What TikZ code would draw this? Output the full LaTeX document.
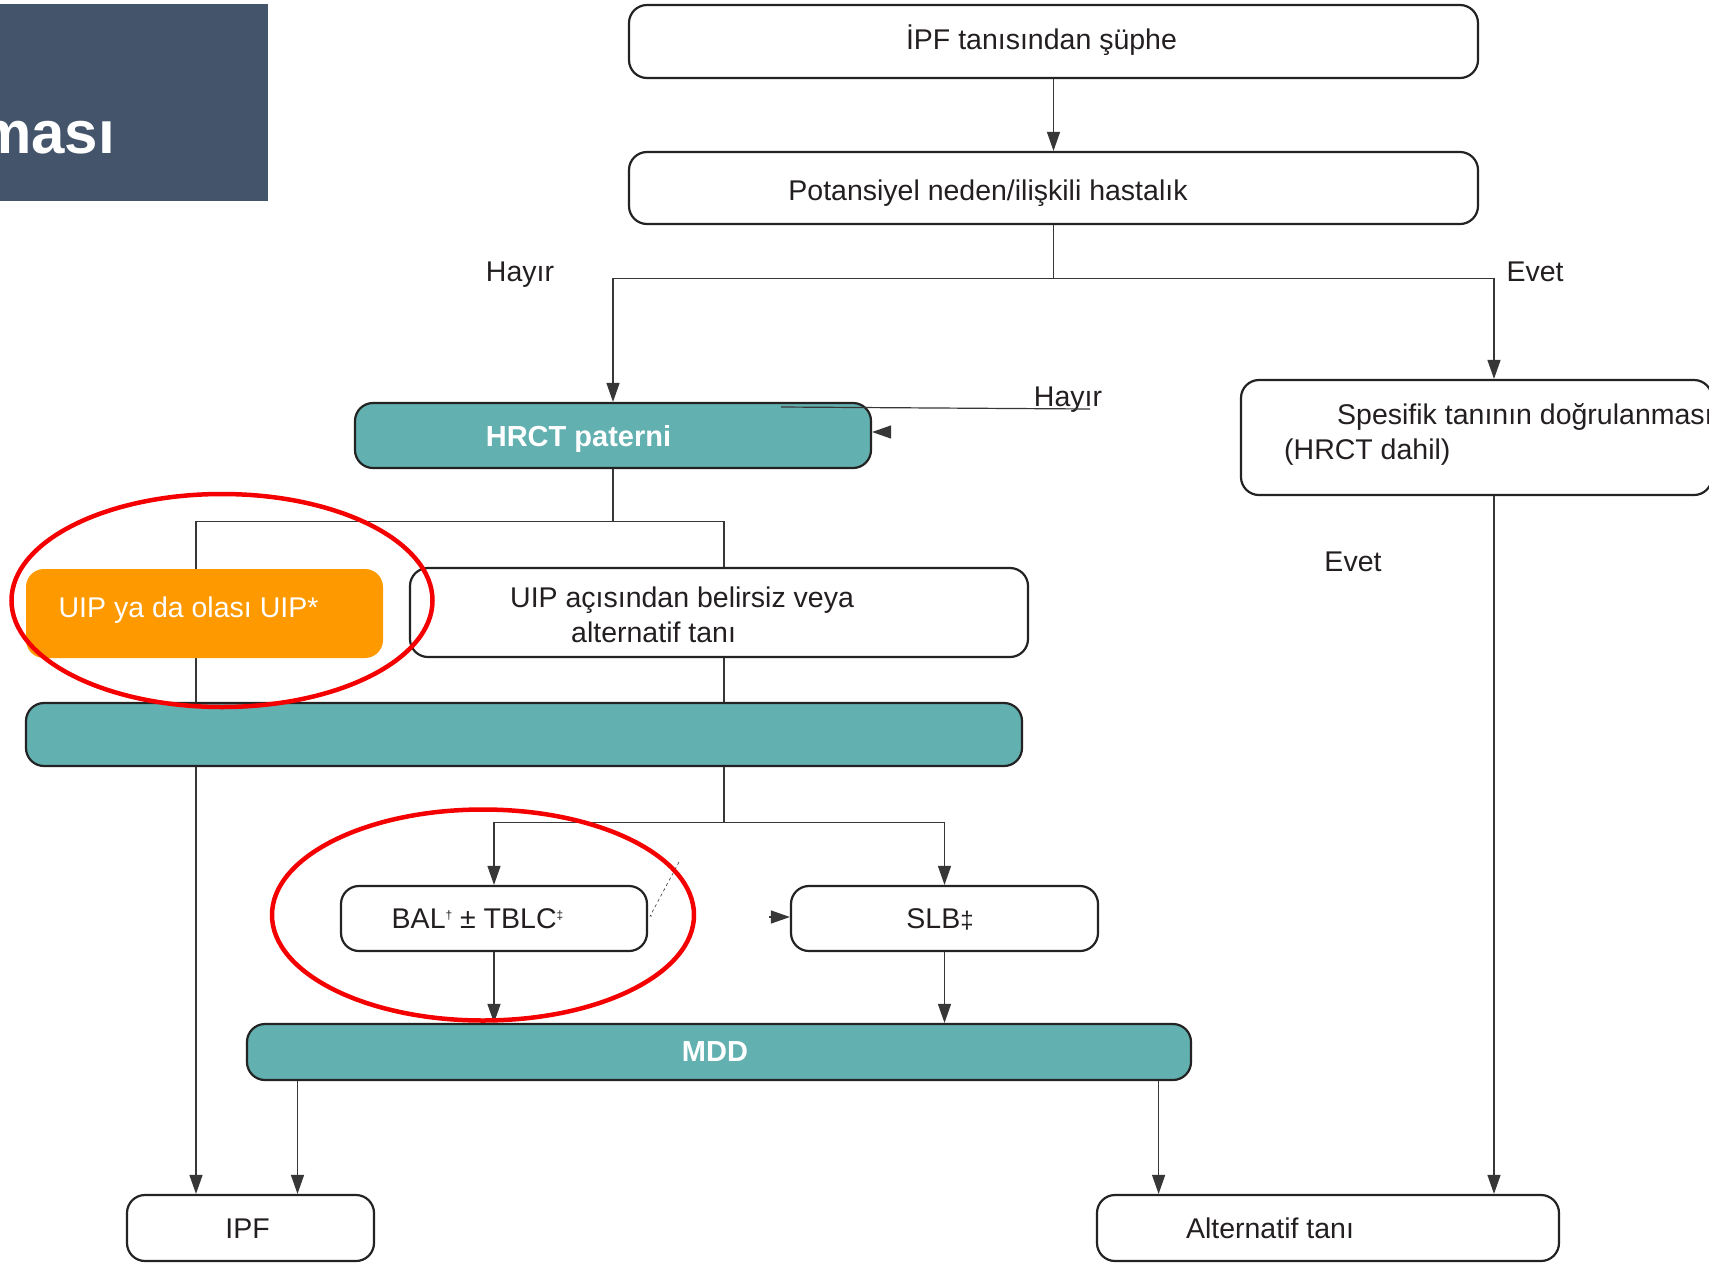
\documentclass[tikz,border=0pt]{standalone}
\usepackage{fontspec}
\setmainfont{Liberation Sans}
\usepackage{xcolor}
\usepackage{tikz}
\usetikzlibrary{arrows.meta,backgrounds}

\begin{document}
\begin{tikzpicture}[x=1pt,y=-1pt,
  box/.style={draw=myline, line width=2.2pt, rounded corners=18pt, inner sep=0pt},
  tealbox/.style={box, fill=myteal},
  txt/.style={inner sep=0pt, text=mytext, font=\fontsize{28.5}{35}\selectfont},
  wtxt/.style={inner sep=0pt, text=white, font=\bfseries\fontsize{29}{35}\selectfont},
  lin/.style={draw=myarrow, line width=1.2pt},
  arr/.style={lin, -{Triangle[length=19pt,width=13pt]}},
  ring/.style={draw=myred, line width=4.5pt}]
				% 颜色列表
				\definecolor{mydark}{RGB}{68,84,106}
				\definecolor{myteal}{RGB}{99,176,177}
				\definecolor{myorange}{RGB}{255,153,0}
				\definecolor{myred}{RGB}{245,0,0}
				\definecolor{myline}{RGB}{35,35,35}
				\definecolor{myarrow}{RGB}{55,55,55}
				\definecolor{mytext}{RGB}{35,31,32}
				\useasboundingbox (0,0) rectangle (1709,1262);
				
				% 左上角标题块
				\node[fill=mydark, minimum width=268pt, minimum height=197pt, inner sep=0pt] (title) at (134,102.5) {};
				\begin{scope}
				\clip (0,4) rectangle (268,201);
				\node[inner sep=0pt, anchor=base west, text=white, font=\bfseries\fontsize{60}{60}\selectfont] (titletxt) at (-22,153) {ması};
				\end{scope}
				
				% 上部两个框
				\node[box, minimum width=849pt, minimum height=73pt] (suphe) at (1053.5,41.5) {};
				\node[txt, anchor=base] (suphetxt) at (1041.5,49.5) {İPF tanısından şüphe};
				\node[box, minimum width=849pt, minimum height=72pt] (neden) at (1053.5,188) {};
				\node[txt, anchor=base] (nedentxt) at (988,200) {Potansiyel neden/ilişkili hastalık};
				
				% HRCT 与右侧框
				\node[tealbox, minimum width=516pt, minimum height=65pt] (hrct) at (613,435.5) {};
				\node[wtxt, anchor=base] (hrcttxt) at (578.5,446) {HRCT paterni};
				\node[box, minimum width=471pt, minimum height=115pt] (spesifik) at (1476.5,437.5) {};
				\node[txt, anchor=base west, align=left] (spesifiktxt) at (1284,459) {\hspace*{53pt}Spesifik tanının doğrulanması\\(HRCT dahil)};
				
				% 中间一行
				\node[fill=myorange, rounded corners=18pt, minimum width=357pt, minimum height=89pt, inner sep=0pt] (uip) at (204.5,613.5) {};
				\node[txt, text=white, anchor=base] (uiptxt) at (188.5,617) {UIP ya da olası UIP*};
				\node[box, minimum width=618pt, minimum height=89pt] (belirsiz) at (719,612.5) {};
				\node[txt, anchor=base west, align=left] (belirsiztxt) at (510,642) {UIP açısından belirsiz veya\\\hspace*{61pt}alternatif tanı};
				\node[tealbox, minimum width=996pt, minimum height=63pt] (bar) at (524,734.5) {};
				
				% BAL, SLB, MDD
				\node[box, minimum width=306pt, minimum height=65pt] (bal) at (494,918.5) {};
				\node[txt, anchor=base] (baltxt) at (477.5,928) {BAL\raisebox{9pt}{\fontsize{12}{12}\selectfont †} ± TBLC\raisebox{9pt}{\fontsize{12}{12}\selectfont ‡}};
				\node[box, minimum width=307pt, minimum height=65pt] (slb) at (944.5,918.5) {};
				\node[txt, anchor=base] (slbtxt) at (940,928) {SLB{\fontsize{24}{24}\selectfont ‡}};
				\node[tealbox, minimum width=944pt, minimum height=56pt] (mdd) at (719,1052) {};
				\node[wtxt, anchor=base] (mddtxt) at (715,1061) {MDD};
				
				% 底部结果
				\node[box, minimum width=247pt, minimum height=66pt] (ipf) at (250.5,1228) {};
				\node[txt, anchor=base] (ipftxt) at (247.5,1238) {IPF};
				\node[box, minimum width=462pt, minimum height=66pt] (alt) at (1328,1228) {};
				\node[txt, anchor=base] (alttxt) at (1270,1238) {Alternatif tanı};
				
				% 标签
				\node[txt, anchor=base] (hayir1) at (520,281) {Hayır};
				\node[txt, anchor=base] (evet1) at (1535,281) {Evet};
				\node[txt, anchor=base] (hayir2) at (1068,406) {Hayır};
				\node[txt, anchor=base] (evet2) at (1353,571) {Evet};
				
				% 连线
				\draw[arr] (suphe.south) -- (neden.north);
				\draw[arr] (neden.south) -- ++(0,53) -| (hrct.north);
				\draw[arr] (neden.south) -- ++(0,53) -| ([xshift=17.5pt]spesifik.north);
				\draw[lin] (hrct.south) -- ++(0,52.5) -| ([xshift=5pt]belirsiz.north);
				\draw[lin] ([xshift=5pt]belirsiz.south) -- ([xshift=200pt]bar.north);
				\draw[arr] ([xshift=200pt]bar.south) -- ++(0,55) -| (bal.north);
				\draw[arr] ([xshift=200pt]bar.south) -- ++(0,55) -| (slb.north);
				\draw[arr] (bal.south) -- ([xshift=-225pt]mdd.north);
				\draw[arr] (slb.south) -- ([xshift=225.5pt]mdd.north);
				\draw[arr] ([xshift=-421.5pt]mdd.south) -- ([xshift=47pt]ipf.north);
				\draw[arr] ([xshift=439.6pt]mdd.south) -- ([xshift=-169.4pt]alt.north);
				\draw[arr] ([xshift=17.5pt]spesifik.south) -- ([xshift=166pt]alt.north);
				
				% 压在框下面的长线
				\begin{pgfonlayer}{background}
				\fill[white] (0,0) rectangle (1709,1262);
				\draw[arr] (hrct.south) -- ++(0,52.5) -| ([xshift=-54.5pt]ipf.north);
				\end{pgfonlayer}
				
				% 零散的线和箭头
				\coordinate (hayirA) at (781,407);
				\coordinate (hayirB) at (1090,409);
				\draw[lin] (hayirA) -- (hayirB);
				\coordinate (tip1) at (889,432);
				\draw[arr] (tip1) -- (hrct.east |- tip1);
				\coordinate (tip2) at (769,917);
				\draw[arr] (tip2) -- (slb.west |- tip2);
				\coordinate (dash1) at (679,862);
				\draw[myarrow, line width=0.6pt, dashed] (dash1) -- ([xshift=2pt,yshift=2.5pt]bal.east) -- ++(4,0);
				
				% 红色圈
				\draw[ring] (222,600.5) ellipse [x radius=210.5, y radius=106.5];
				\draw[ring] (483,915) ellipse [x radius=211, y radius=105.5];
\end{tikzpicture}
\end{document}
